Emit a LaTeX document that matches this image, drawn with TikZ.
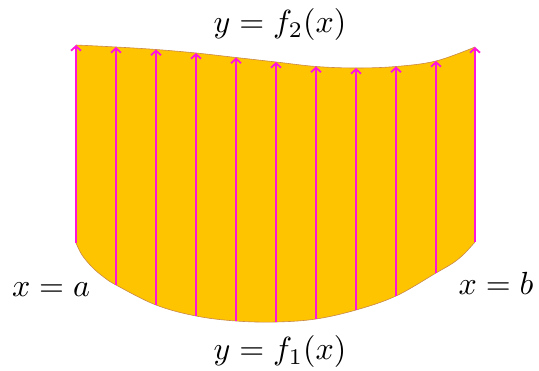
\documentclass[tikz,border=0pt]{standalone}
\usetikzlibrary{arrows.meta}
\definecolor{regionfill}{HTML}{FFC400}
\definecolor{edgecol}{HTML}{C8884A}
\definecolor{arrowcol}{HTML}{FF14DC}
\begin{document}
\begin{tikzpicture}[x=1pt,y=-1pt,
  arr/.style={draw=arrowcol, line width=2.3pt, -{Straight Barb[length=4.5pt,width=10pt,line width=1.8pt]}},
  lab/.style={scale=3.2, inner sep=0pt},
  edge/.style={draw=edgecol, line width=0.6pt}]
\useasboundingbox (0,0) rectangle (539,371);
\foreach \i/\x/\yt/\yb in {0/76/45/243, 1/116/47/285, 2/156/49.5/305, 3/196/53/316, 4/236/57.5/321, 5/276/62/322, 6/316/66.5/319, 7/356/68/310, 8/396/66.5/296, 9/436/61/273, 10/475/47/242}{
  \coordinate (t\i) at (\x,\yt);
  \coordinate (b\i) at (\x,\yb);
}
\coordinate (bl1) at (82,255);
\coordinate (bl2) at (92,267);
\coordinate (bl3) at (103,276.5);
\coordinate (br1) at (453,263);
\coordinate (br2) at (464,254);
\fill[regionfill] plot[smooth, tension=0.6] coordinates {(t0) (t1) (t2) (t3) (t4) (t5) (t6) (t7) (t8) (t9) (t10)}
  -- plot[smooth, tension=0.6] coordinates {(b10) (br2) (br1) (b9) (b8) (b7) (b6) (b5) (b4) (b3) (b2) (b1) (bl3) (bl2) (bl1) (b0)} -- cycle;
\draw[edge] plot[smooth, tension=0.6] coordinates {(t0) (t1) (t2) (t3) (t4) (t5) (t6) (t7) (t8) (t9) (t10)};
\draw[edge] plot[smooth, tension=0.6] coordinates {(b10) (br2) (br1) (b9) (b8) (b7) (b6) (b5) (b4) (b3) (b2) (b1) (bl3) (bl2) (bl1) (b0)};
\foreach \i in {0,...,10}{
  \draw[arr] (b\i) -- (t\i);
}
\node[lab] (ftop) at (280,25) {$y=f_2(x)$};
\node[lab] (fbot) at (280,352) {$y=f_1(x)$};
\node[lab] (xa) at (51,290) {$x=a$};
\node[lab] (xb) at (496,283) {$x=b$};
\end{tikzpicture}
\end{document}
